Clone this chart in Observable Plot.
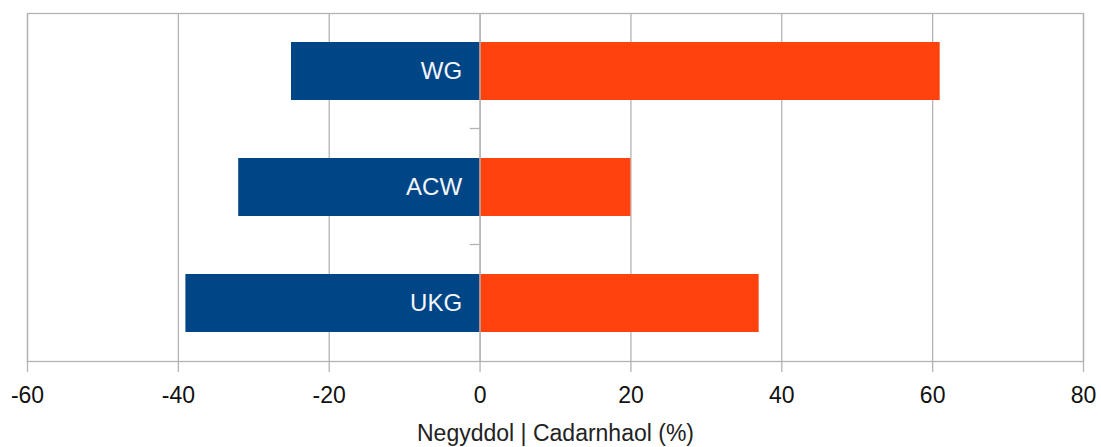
<!DOCTYPE html>
<html>
<head>
<meta charset="utf-8">
<script src="https://cdn.jsdelivr.net/npm/d3@7"></script>
<script src="https://cdn.jsdelivr.net/npm/@observablehq/plot@0.6"></script>
<style>
  html, body { margin: 0; padding: 0; background: #fff; }
  #chart svg { display: block; }
</style>
</head>
<body>
<div id="chart"></div>
<script>
const categories = ["WG", "ACW", "UKG"];
const negative = [-25, -32, -39];
const positive = [61, 20, 37];
const xTicks = [-60, -40, -20, 0, 20, 40, 60, 80];
const axisTitle = "Negyddol | Cadarnhaol (%)";

const negData = categories.map((c, i) => ({cat: c, value: negative[i]}));
const posData = categories.map((c, i) => ({cat: c, value: positive[i]}));

const grid = "#b3b3b3";
const W = 1101, H = 447;
const mTop = 13, mBottom = 86;
const step = (H - mTop - mBottom) / categories.length;

const chart = Plot.plot({
  width: W,
  height: H,
  marginTop: mTop,
  marginBottom: mBottom,
  marginLeft: 27,
  marginRight: 18,
  style: {fontFamily: "'Liberation Sans', Arial, sans-serif", fontSize: "23px", color: "#000", background: "#fff"},
  x: {domain: [-60, 80], ticks: xTicks},
  y: {domain: categories, paddingInner: 0.5, paddingOuter: 0.25, axis: null},
  marks: [
    Plot.gridX(xTicks, {stroke: grid, strokeOpacity: 1, strokeWidth: 1.3}),
    Plot.frame({stroke: grid, strokeWidth: 1.3}),
    Plot.barX(negData, {y: "cat", x1: 0, x2: "value", fill: "#004586"}),
    Plot.barX(posData, {y: "cat", x1: 0, x2: "value", fill: "#ff420e"}),
    Plot.ruleX([0], {stroke: grid, strokeWidth: 1.3}),
    Plot.ruleY(categories.slice(0, -1), {y: d => d, x1: -1.3, x2: 0, dy: step / 2 - 1, stroke: grid, strokeWidth: 1.3}),
    Plot.text(negData, {y: "cat", x: 0, dx: -18, text: "cat", textAnchor: "end", fill: "#f4f6fa", fontSize: 24}),
    Plot.axisX(xTicks, {tickSize: 11, tickPadding: 14, tickFormat: d => String(d), stroke: grid, strokeWidth: 1.3, strokeOpacity: 1, fill: "#111", fontSize: 23, label: null}),
    Plot.text([axisTitle], {frameAnchor: "bottom", text: d => d, dy: 63, lineAnchor: "top", fontSize: 23, fill: "#222"})
  ]
});
document.getElementById("chart").appendChild(chart);
</script>
</body>
</html>
